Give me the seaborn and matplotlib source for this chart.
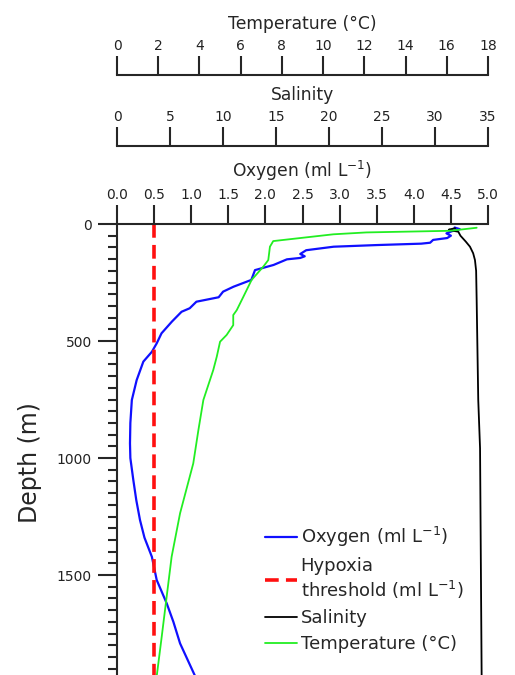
import numpy as np
import pandas as pd
import seaborn as sns
import matplotlib.pyplot as plt
from matplotlib.ticker import MultipleLocator

# oxygen profile (ml L-1) vs depth (m)
oxygen_depth = [15, 22, 30, 40, 50, 60, 68, 80, 84, 90, 97, 112, 128, 138, 145, 151,
                175, 197, 239, 268, 289, 313, 332, 360, 375, 417, 467, 510, 546,
                588, 667, 752, 850, 937, 1000, 1094, 1180, 1265, 1340, 1422, 1521,
                1621, 1700, 1792, 1930]
oxygen = [4.55, 4.62, 4.52, 4.44, 4.50, 4.45, 4.26, 4.22, 4.10, 3.50, 2.92, 2.55,
          2.47, 2.53, 2.47, 2.29, 2.11, 1.86, 1.81, 1.57, 1.43, 1.37, 1.07, 0.98,
          0.87, 0.74, 0.60, 0.535, 0.47, 0.355, 0.265, 0.20, 0.18, 0.175, 0.18,
          0.22, 0.26, 0.31, 0.37, 0.47, 0.535, 0.67, 0.76, 0.85, 1.05]

# temperature (°C) vs depth
temp_depth = [16, 29, 36, 44, 73, 97, 154, 182, 239, 311, 368, 389, 432, 474, 503,
              567, 624, 752, 880, 1023, 1236, 1422, 1592, 1763, 1930]
temperature = [17.45, 16.16, 12.1, 10.5, 7.58, 7.42, 7.34, 7.10, 6.53, 6.13, 5.81,
               5.64, 5.64, 5.32, 5.0, 4.84, 4.67, 4.19, 3.95, 3.70, 3.06, 2.65,
               2.41, 2.17, 1.93]

# salinity vs depth
salinity_depth = [18, 24, 28, 33, 50, 75, 97, 125, 154, 200, 325, 752, 958, 1930]
salinity = [31.9, 31.3, 31.6, 32.2, 32.4, 32.9, 33.3, 33.6, 33.77, 33.88, 33.93,
            34.08, 34.25, 34.4]

hypoxia_depth = [0, 1930]
hypoxia = [0.5, 0.5]

oxygen_ticks = np.arange(0, 5.01, 0.5)
salinity_ticks = np.arange(0, 36, 5)
temp_ticks = np.arange(0, 19, 2)

oxy_df = pd.DataFrame({'depth': oxygen_depth, 'value': oxygen})
temp_df = pd.DataFrame({'depth': temp_depth, 'value': temperature})
sal_df = pd.DataFrame({'depth': salinity_depth, 'value': salinity})
hyp_df = pd.DataFrame({'depth': hypoxia_depth, 'value': hypoxia})

sns.set_style('ticks')
plt.rcParams['font.family'] = ['DejaVu Sans']
plt.rcParams['axes.linewidth'] = 1.5

TICK_COLOR = '#222222'
LABEL_SIZE = 12.3
TICK_SIZE = 10

fig = plt.figure(figsize=(5.15, 6.75), dpi=100)
ax = fig.add_axes([117 / 515, 0.0, (488 - 117) / 515, 1 - 224 / 675])


def add_top_axis(base, offset, lim, ticks):
    # extra x axis stacked above the plot
    tw = base.twiny()
    tw.set_xlim(*lim)
    tw.set_xticks(ticks)
    tw.spines['top'].set_position(('outward', offset))
    for s in ['left', 'right', 'bottom']:
        tw.spines[s].set_visible(False)
    tw.tick_params(axis='x', direction='out', length=13.5, width=1.5,
                   labelsize=TICK_SIZE, labelcolor=TICK_COLOR, pad=2)
    return tw


ax_sal = add_top_axis(ax, 56.4, (0, 35), salinity_ticks)
ax_temp = add_top_axis(ax, 107.3, (0, 18), temp_ticks)

# main axes: oxygen on top, depth downwards
sns.lineplot(data=oxy_df, x='value', y='depth', orient='y', sort=False,
             estimator=None, color='#1010ff', lw=1.6, ax=ax)
sns.lineplot(data=hyp_df, x='value', y='depth', orient='y', sort=False,
             estimator=None, color='#ff1010', lw=2.6, ax=ax, dashes=False)
ax.lines[-1].set_dashes((3.8, 2.0))
sns.lineplot(data=sal_df, x='value', y='depth', orient='y', sort=False,
             estimator=None, color='black', lw=1.3, ax=ax_sal)
sns.lineplot(data=temp_df, x='value', y='depth', orient='y', sort=False,
             estimator=None, color='#22ee22', lw=1.3, ax=ax_temp)

ax.set_xlim(0, 5)
ax.set_ylim(1927, 0)
ax.xaxis.tick_top()
ax.xaxis.set_label_position('top')
ax.set_xticks(oxygen_ticks)
ax.set_xticklabels([f'{t:.1f}' for t in oxygen_ticks])
ax.yaxis.set_major_locator(MultipleLocator(500))
ax.yaxis.set_minor_locator(MultipleLocator(50))
ax.spines['right'].set_visible(False)
ax.spines['bottom'].set_visible(False)
ax.tick_params(axis='x', direction='out', length=14, width=1.5,
               labelsize=TICK_SIZE, labelcolor=TICK_COLOR, pad=2)
ax.tick_params(axis='y', which='major', direction='out', length=14, width=1.5,
               labelsize=TICK_SIZE, labelcolor=TICK_COLOR, pad=4)
ax.tick_params(axis='y', which='minor', direction='out', length=6.5, width=1.5)

ax.set_xlabel('Oxygen (ml L$^{-1}$)', fontsize=LABEL_SIZE, labelpad=7.5)
ax_sal.set_xlabel('Salinity', fontsize=LABEL_SIZE, labelpad=7.5)
ax_temp.set_xlabel('Temperature (°C)', fontsize=LABEL_SIZE, labelpad=7.5)
ax.set_ylabel('Depth (m)', fontsize=17)
ax.yaxis.set_label_coords(-0.202, 0.472)
for a in (ax_sal, ax_temp):
    a.set_ylabel('')

handles = [ax.lines[0], ax.lines[1], ax_sal.lines[0], ax_temp.lines[0]]
labels = ['Oxygen (ml L$^{-1}$)', 'Hypoxia\nthreshold (ml L$^{-1}$)',
          'Salinity', 'Temperature (°C)']
fig.legend(handles, labels, loc='upper left', bbox_to_anchor=(0.483, 0.246),
           frameon=False, fontsize=13, handlelength=1.8, handletextpad=0.17,
           labelspacing=0.45)

fig.savefig('out.png', dpi=100)
